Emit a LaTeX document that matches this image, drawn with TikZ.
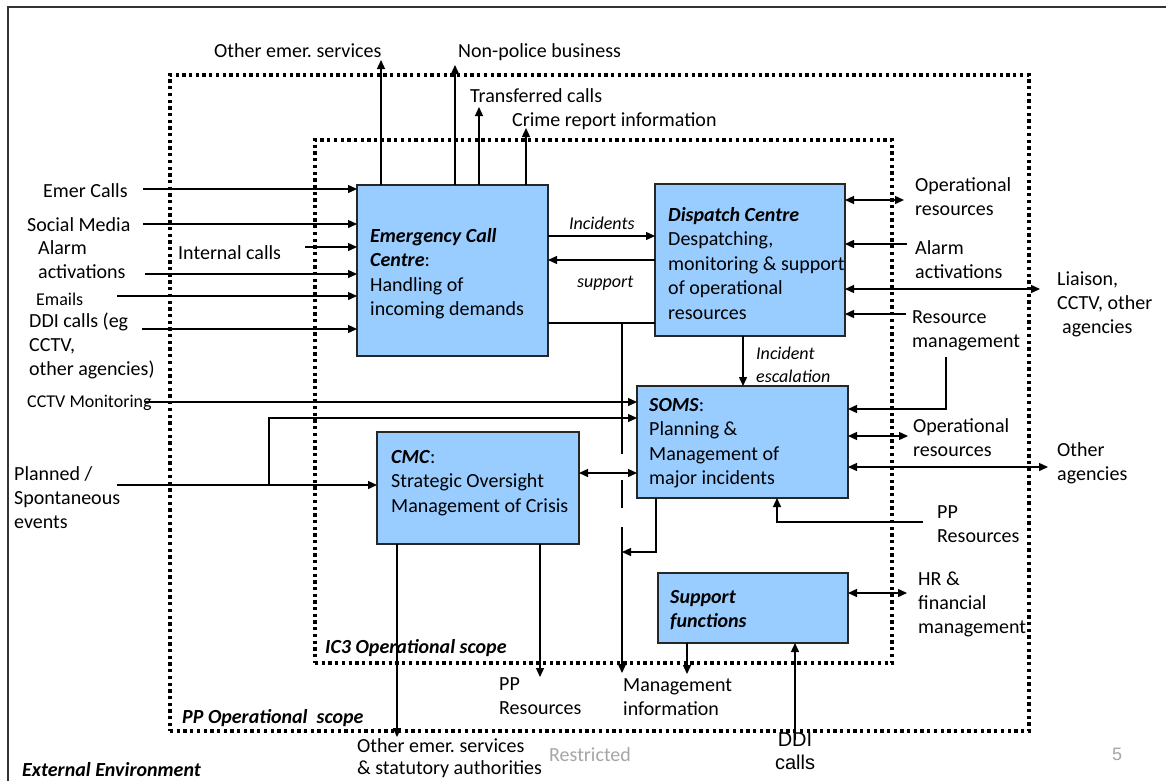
\documentclass[tikz,border=0pt]{standalone}
\usepackage{fontspec}
\setmainfont{Carlito}
\newfontfamily\ddifont{Liberation Sans}
\usetikzlibrary{arrows.meta,positioning}
\definecolor{boxblue}{HTML}{99CCFF}
\definecolor{footgray}{HTML}{A6A6A6}
\frenchspacing

\tikzset{
  >={Triangle[length=9pt,width=8pt]},
  centre/.style={draw=black!85, fill=boxblue, line width=1.5pt, inner sep=0pt, outer sep=0pt, anchor=north west},
  centretext/.style={inner sep=0pt, align=left, font=\fontsize{20}{24.5}\selectfont},
  lbl/.style={inner sep=0pt, align=left, anchor=north west, font=\fontsize{20}{24}\selectfont},
  lblsmall/.style={lbl, font=\fontsize{18}{22}\selectfont},
  flowlbl/.style={lbl, font=\fontsize{18}{23}\selectfont\itshape},
  scopelbl/.style={lbl, font=\fontsize{20}{24}\selectfont\bfseries\itshape},
  footlbl/.style={lbl, text=footgray},
  scopebox/.style={draw, line width=3.3pt, dash pattern=on 3.3pt off 3.4pt, inner sep=0pt, outer sep=0pt, anchor=north west},
  flow/.style={line width=1.4pt, ->},
  twoway/.style={line width=1.4pt, <->},
  wire/.style={line width=1.4pt},
}

\begin{document}
\begin{tikzpicture}[x=1pt,y=-1pt]
  \path[use as bounding box, fill=white] (0,0) rectangle (1166,780);
  % external environment frame
  \draw[line width=1.6pt, black!80] (8,800) -- (8,7) -- (1180,7);

  % scopes
  \node[scopebox, minimum width=859pt, minimum height=656pt] (pp)  at (170,75)  {};
  \node[scopebox, minimum width=577pt, minimum height=523pt] (ic3) at (315,140) {};

  % centres
  \node[centre, minimum width=191pt, minimum height=171pt] (ecc)  at (357,185) {};
  \node[centre, minimum width=190pt, minimum height=152pt] (dc)   at (655,184) {};
  \node[centre, minimum width=211pt, minimum height=112pt] (soms) at (637,386) {};
  \node[centre, minimum width=202pt, minimum height=112pt] (cmc)  at (377,432) {};
  \node[centre, minimum width=190pt, minimum height=70pt]  (sup)  at (658,573) {};

  \node[centretext, below right=43pt and 13pt of ecc.north west] (ecctext)
    {\textbf{\textit{Emergency Call}}\\\textbf{\textit{Centre}}:\\Handling of\\incoming demands};
  \node[centretext, below right=23pt and 13pt of dc.north west] (dctext)
    {\textbf{\textit{Dispatch Centre}}\\Despatching,\\monitoring \& support\\of operational\\resources};
  \node[centretext, below right=12pt and 12pt of soms.north west] (somstext)
    {\textbf{\textit{SOMS}}:\\Planning \&\\Management of\\major incidents};
  \node[centretext, below right=18pt and 14pt of cmc.north west] (cmctext)
    {\textbf{\textit{CMC}}:\\Strategic Oversight\\Management of Crisis};
  \node[centretext, below right=17pt and 12pt of sup.north west] (suptext)
    {\textbf{\textit{Support}}\\\textbf{\textit{functions}}};

  % labels
  \node[lbl] (lOtherTop)  at (214,43)  {Other emer. services};
  \node[lbl] (lNonPolice) at (458,43)  {Non-police business};
  \node[lbl] (lTransfer)  at (470,88)  {Transferred calls};
  \node[lbl] (lCrime)     at (512,112) {Crime report information};
  \node[lbl] (lEmer)      at (43,183)  {Emer Calls};
  \node[lbl] (lSocial)    at (27,217)  {Social Media};
  \node[lbl] (lAlarmL)    at (38,240)  {Alarm\\activations};
  \node[lbl] (lInternal)  at (178,245) {Internal calls};
  \node[lblsmall] (lEmails) at (36,293) {Emails};
  \node[lbl] (lDDIL)      at (29,313)  {DDI calls (eg\\CCTV,\\other agencies)};
  \node[lblsmall] (lCCTV) at (27,395)  {CCTV Monitoring};
  \node[lbl] (lPlanned)   at (14,466)  {Planned /\\Spontaneous\\events};

  \node[lbl] (lOpresA)    at (915,177) {Operational\\resources};
  \node[lbl] (lAlarmR)    at (915,240) {Alarm\\activations};
  \node[lbl] (lLiaison)   at (1057,272) {Liaison,\\CCTV, other\\\hspace*{5pt}agencies};
  \node[lbl] (lResMgmt)   at (912,310) {Resource\\management};
  \node[lbl] (lOpresB)    at (913,418) {Operational\\resources};
  \node[lbl] (lOtherAg)   at (1057,442) {Other\\agencies};
  \node[lbl] (lPPR)       at (937,505) {PP\\Resources};
  \node[lbl] (lHR)        at (918,572) {HR \&\\financial\\management};

  \node[lbl] (lPPB)       at (499,677) {PP\\Resources};
  \node[lbl] (lMgmt)      at (623,678) {Management\\information};
  \node[lbl, font=\fontsize{20}{22.5}\selectfont] (lOtherBot) at (357,738) {Other emer. services\\\& statutory authorities};
  \node[footlbl] (lRestricted) at (549,747) {Restricted};
  \node[lbl, font=\ddifont\fontsize{20}{23}\selectfont, align=center, anchor=north] (lDDIB) at (795,733) {DDI\\calls};
  \node[footlbl, font=\ddifont\fontsize{18}{22}\selectfont] (lPage) at (1112,748) {5};

  \node[flowlbl] (lInc)     at (569,217) {Incidents};
  \node[flowlbl] (lSupport) at (577,276) {support};
  \node[flowlbl] (lEsc)     at (756,347) {Incident\\escalation};

  \node[scopelbl] (lIC3) at (325,639) {IC3 Operational scope};
  \node[scopelbl] (lPP)  at (182,709) {PP Operational~ scope};
  \node[scopelbl] (lExt) at (22,762)  {External Environment};

  % free ends of connectors
  \coordinate (emerIn)      at (143,189);
  \coordinate (socialIn)    at (143,224);
  \coordinate (internalIn)  at (305,247);
  \coordinate (alarmIn)     at (145,274);
  \coordinate (emailIn)     at (117,296);
  \coordinate (ddiIn)       at (142,329);
  \coordinate (cctvIn)      at (145,402);
  \coordinate (plannedIn)   at (117,485);
  \coordinate (plannedFork) at (269,485);
  \coordinate (otherOut)    at (381,60);
  \coordinate (nonPolOut)   at (455,65);
  \coordinate (transOut)    at (479,107);
  \coordinate (crimeOut)    at (526,128);
  \coordinate (opresAEnd)   at (904,200);
  \coordinate (alarmRIn)    at (907,244);
  \coordinate (liaisonEnd)  at (1040,289);
  \coordinate (resIn)       at (906,314);
  \coordinate (resKnee)     at (946,409);
  \coordinate (opresBEnd)   at (908,436);
  \coordinate (otherAgEnd)  at (1048,467);
  \coordinate (ppIn)        at (923,522);
  \coordinate (ppKnee)      at (777,522);
  \coordinate (hrEnd)       at (907,593);
  \coordinate (mgmtOut)     at (622,673);
  \coordinate (somsKnee)    at (656,552);
  \coordinate (supMgmtOut)  at (687,674);
  \coordinate (cmcOtherOut) at (397,737);
  \coordinate (cmcPPOut)    at (540,677);
  \coordinate (ddiBIn)      at (795,740);

  % into and out of the call centre
  \foreach \src in {emerIn,socialIn,internalIn,alarmIn,emailIn,ddiIn}
    \draw[flow] (\src) -- (\src -| ecc.west);
  \foreach \dst in {otherOut,nonPolOut,transOut,crimeOut}
    \draw[flow] (\dst |- ecc.north) -- (\dst);
  \draw[flow] (ecc.east |- 0,236) -- (dc.west |- 0,236);
  \draw[flow] (dc.west |- 0,260) -- (ecc.east |- 0,260);
  \draw[wire] (ecc.east |- 0,323) -- (dc.west |- 0,323);
  \draw[wire] (mgmtOut |- 0,323) -- (mgmtOut |- 0,454);
  \draw[wire] (mgmtOut |- 0,480) -- (mgmtOut |- 0,508);
  \draw[flow] (mgmtOut |- 0,527) -- (mgmtOut);

  % SOMS and CMC
  \draw[flow] (dc.south -| 743,0) -- (soms.north -| 743,0);
  \draw[flow] (cctvIn) -- (cctvIn -| soms.west);
  \draw[flow] (plannedIn) -- (plannedIn -| cmc.west);
  \draw[flow] (plannedFork) -- (plannedFork |- 0,418) -- (soms.west |- 0,418);
  \draw[twoway] (cmc.east |- 0,473) -- (soms.west |- 0,473);
  \draw[flow] (somsKnee |- soms.south) -- (somsKnee) -- (somsKnee -| mgmtOut);
  \foreach \dst in {cmcOtherOut,cmcPPOut}
    \draw[flow] (\dst |- cmc.south) -- (\dst);
  \draw[flow] (supMgmtOut |- sup.south) -- (supMgmtOut);
  \draw[flow] (ddiBIn) -- (ddiBIn |- sup.south);

  % right-hand side
  \foreach \dst in {opresAEnd,liaisonEnd}
    \draw[twoway] (\dst -| dc.east) -- (\dst);
  \foreach \src in {alarmRIn,resIn}
    \draw[flow] (\src) -- (\src -| dc.east);
  \draw[flow] (resKnee |- 0,357) -- (resKnee) -- (resKnee -| soms.east);
  \foreach \dst in {opresBEnd,otherAgEnd}
    \draw[twoway] (\dst -| soms.east) -- (\dst);
  \draw[flow] (ppIn) -- (ppKnee) -- (ppKnee |- soms.south);
  \draw[twoway] (hrEnd -| sup.east) -- (hrEnd);
\end{tikzpicture}
\end{document}
